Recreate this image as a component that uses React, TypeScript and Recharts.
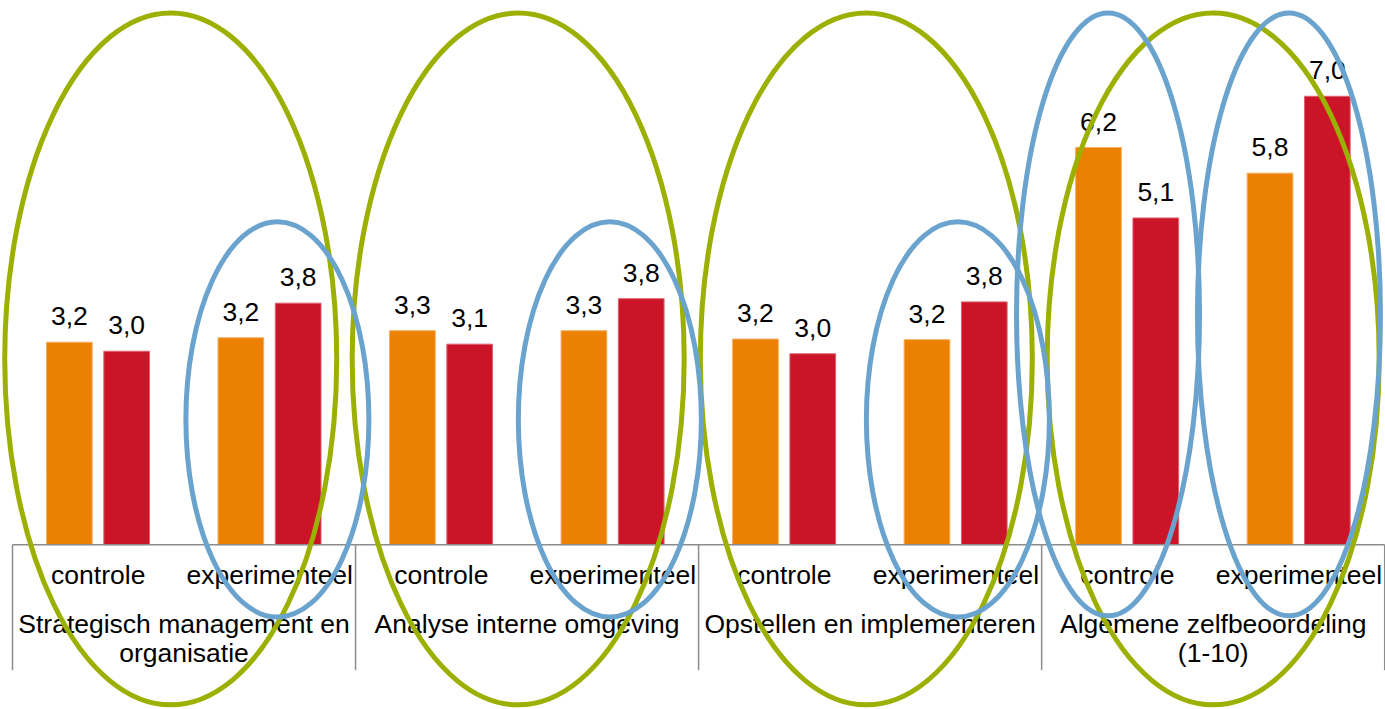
import { BarChart, Bar, XAxis, YAxis, LabelList, ReferenceArea } from 'recharts';

const groupLabels = [
  ['Strategisch management en', 'organisatie'],
  ['Analyse interne omgeving'],
  ['Opstellen en implementeren'],
  ['Algemene zelfbeoordeling', '(1-10)'],
];
const conditions = ['controle', 'experimenteel'];
const voormeting = [3.16, 3.23, 3.34, 3.34, 3.21, 3.2, 6.2, 5.8];
const nameting = [3.02, 3.77, 3.13, 3.84, 2.98, 3.79, 5.1, 7.0];

const data = groupLabels.flatMap((_, g) =>
  conditions.map((c, k) => {
    const i = g * conditions.length + k;
    return { id: `${g}-${k}`, group: g, conditie: c, voormeting: voormeting[i], nameting: nameting[i] };
  })
);

const W = 1385;
const H = 709;
const M = { top: 32.2, right: 0.3, bottom: 0, left: 12.5 };
const BAND = (W - M.left - M.right) / data.length;
const FONT = '"Liberation Sans", Arial, sans-serif';
const GREEN = '#9BB000';
const BLUE = '#6AA3CD';
const AXIS = '#8C8C8C';

// annotation ovals, anchored on category bands
const ovals = [
  { x1: '0-0', x2: '0-1', y1: -2.5, y2: 8.3, dx: -13.3, rx: 166, color: GREEN },
  { x1: '1-0', x2: '1-1', y1: -2.5, y2: 8.3, dx: -8.9, rx: 166, color: GREEN },
  { x1: '2-0', x2: '2-1', y1: -2.5, y2: 8.3, dx: -3.8, rx: 166, color: GREEN },
  { x1: '3-0', x2: '3-1', y1: -2.5, y2: 8.3, dx: 0, rx: 166, color: GREEN },
  { x1: '0-1', x2: '0-1', y1: -1.13, y2: 5.04, dx: 7.6, rx: 91.5, color: BLUE },
  { x1: '1-1', x2: '1-1', y1: -1.13, y2: 5.04, dx: -3, rx: 91.5, color: BLUE },
  { x1: '2-1', x2: '2-1', y1: -1.13, y2: 5.04, dx: 2, rx: 91.5, color: BLUE },
  { x1: '3-0', x2: '3-0', y1: -1.11, y2: 8.3, dx: -19.4, rx: 91.5, color: BLUE },
  { x1: '3-1', x2: '3-1', y1: -1.11, y2: 8.3, dx: -10, rx: 91.5, color: BLUE },
];

const fmt = (v: any) => Number(v).toFixed(1).replace('.', ',');

const AxisTick = (props: any) => {
  const { x, y, payload } = props;
  const half = payload.offset || BAND / 2;
  const d = data.find(r => r.id === payload.value);
  if (!d) return null;
  const first = d.id.endsWith('-0');
  const last = d.id === data[data.length - 1].id;
  const lines = groupLabels[d.group];
  return (
    <g>
      <text x={x} y={y + 39.6} textAnchor="middle" fontSize={26.5} fontFamily={FONT} fill="#000">
        {d.conditie}
      </text>
      {first && (
        <>
          <line x1={x - half} x2={x - half} y1={y} y2={y + 125.5} stroke={AXIS} strokeWidth={1.5} />
          <text x={x + half} y={y + 88.6} textAnchor="middle" fontSize={26.5} fontFamily={FONT} fill="#000">
            {lines.map((l, j) => (
              <tspan key={j} x={x + half} dy={j === 0 ? 0 : 29}>{l}</tspan>
            ))}
          </text>
        </>
      )}
      {last && <line x1={x + half} x2={x + half} y1={y} y2={y + 125.5} stroke={AXIS} strokeWidth={1.5} />}
    </g>
  );
};

const ovalShape = (o: any) => (p: any) => {
  const cx = p.x + p.width / 2 + o.dx;
  const cy = p.y + p.height / 2;
  return <ellipse cx={cx} cy={cy} rx={o.rx} ry={Math.abs(p.height) / 2} fill="none" stroke={o.color} strokeWidth={5} />;
};

export default function App() {
  return (
    <div style={{ position: 'absolute', left: 0, top: 0, width: W, height: H, background: '#fff' }}>
      <BarChart width={W} height={H} data={data} margin={M} barSize={45.7} barGap={11.6} style={{ fontFamily: FONT }}>
        <XAxis
          dataKey="id"
          interval={0}
          tickLine={false}
          tickSize={0}
          tickMargin={0}
          height={164.3}
          axisLine={{ stroke: AXIS, strokeWidth: 1.5 }}
          tick={<AxisTick />}
        />
        <YAxis hide domain={[0, 8]} />
        <Bar dataKey="voormeting" fill="#EC8000" stroke="#F4AE5E" strokeWidth={1} isAnimationActive={false}>
          <LabelList dataKey="voormeting" position="top" offset={17} formatter={fmt} fill="#000" fontSize={26.5} fontFamily={FONT} />
        </Bar>
        <Bar dataKey="nameting" fill="#CC1428" stroke="#E0606E" strokeWidth={1} isAnimationActive={false}>
          <LabelList dataKey="nameting" position="top" offset={17} formatter={fmt} fill="#000" fontSize={26.5} fontFamily={FONT} />
        </Bar>
        {ovals.map((o, i) => (
          <ReferenceArea
            key={i}
            x1={o.x1}
            x2={o.x2}
            y1={o.y1}
            y2={o.y2}
            ifOverflow="visible"
            zIndex={3000}
            shape={ovalShape(o)}
          />
        ))}
      </BarChart>
    </div>
  );
}
